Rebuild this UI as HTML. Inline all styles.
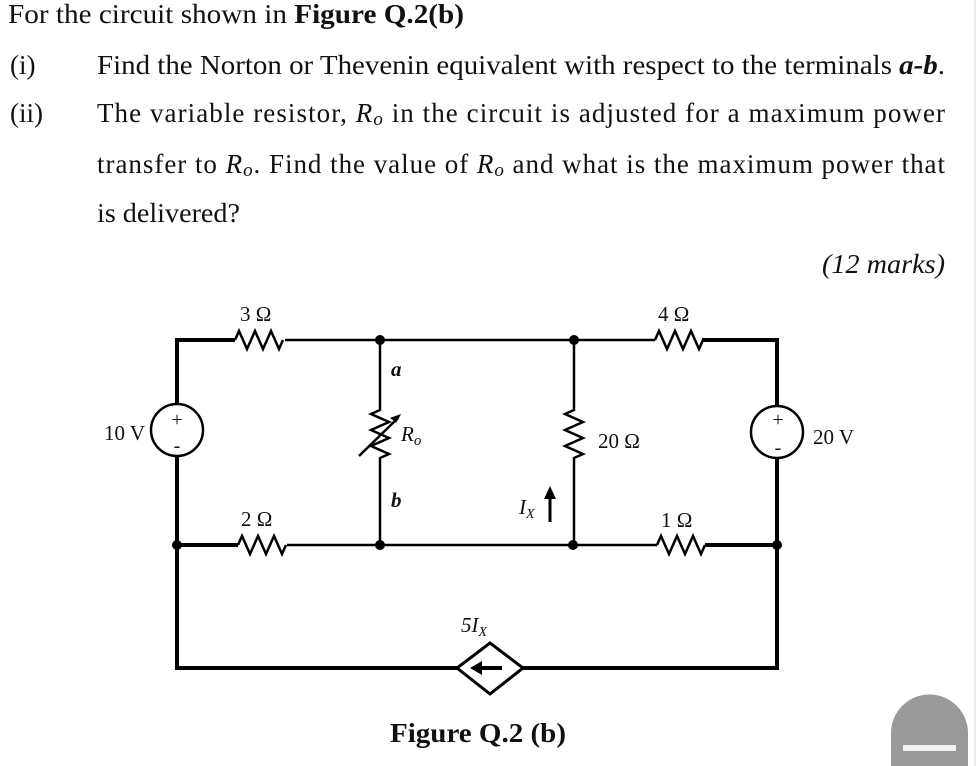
<!DOCTYPE html>
<html><head><meta charset="utf-8"><style>
html,body{margin:0;padding:0;background:#fff;}
svg{display:block;font-family:"Liberation Serif",serif;}
</style></head><body>
<svg width="980" height="766" viewBox="0 0 980 766" xmlns="http://www.w3.org/2000/svg">
<rect x="0" y="0" width="980" height="766" fill="#fff"/>
<line x1="975" y1="0" x2="975" y2="766" stroke="#e4e4e4" stroke-width="1.5"/>
<g fill="#111" font-size="27">
<text x="8" y="23" textLength="456" lengthAdjust="spacingAndGlyphs">For the circuit shown in <tspan font-weight="bold">Figure Q.2(b)</tspan></text>
<text x="10" y="74">(i)</text>
<text x="97" y="74" textLength="848" lengthAdjust="spacingAndGlyphs">Find the Norton or Thevenin equivalent with respect to the terminals <tspan font-weight="bold" font-style="italic">a-b</tspan>.</text>
<text x="10" y="122">(ii)</text>
<text x="97" y="122" textLength="848" lengthAdjust="spacing">The variable resistor, <tspan font-style="italic">R<tspan font-size="19" dy="3">o</tspan></tspan><tspan dy="-3"> in the circuit is adjusted for a maximum power</tspan></text>
<text x="97" y="173" textLength="848" lengthAdjust="spacing">transfer to <tspan font-style="italic">R<tspan font-size="19" dy="3">o</tspan></tspan><tspan dy="-3">. Find the value of </tspan><tspan font-style="italic">R<tspan font-size="19" dy="3">o</tspan></tspan><tspan dy="-3"> and what is the maximum power that</tspan></text>
<text x="97" y="222" textLength="143" lengthAdjust="spacingAndGlyphs">is delivered?</text>
<text x="822" y="273" font-style="italic" textLength="123" lengthAdjust="spacingAndGlyphs">(12 marks)</text>
</g>
<g stroke="#000" fill="none" stroke-linejoin="miter">
<path d="M177,404 V340 H235" stroke-width="4"/>
<path d="M177,456 V668 H457" stroke-width="4"/>
<path d="M523,668 H777 V458" stroke-width="4"/>
<path d="M777,406 V340 H702" stroke-width="4"/>
<path d="M177,545 H238" stroke-width="4"/>
<path d="M705,545 H777" stroke-width="4"/>
<path d="M285,340 H655" stroke-width="2.5"/>
<path d="M287,545 H657" stroke-width="2.5"/>
<path d="M235,340 l4,-9 l8,18 l8,-18 l8,18 l8,-18 l8,18 l4,-9" stroke-width="2.5"/>
<path d="M655,340 l4,-9 l8,18 l8,-18 l8,18 l8,-18 l8,18 l4,-9" stroke-width="2.5"/>
<path d="M238,545 l4,-9 l8,18 l8,-18 l8,18 l8,-18 l8,18 l4,-9" stroke-width="2.5"/>
<path d="M657,545 l4,-9 l8,18 l8,-18 l8,18 l8,-18 l8,18 l4,-9" stroke-width="2.5"/>
<path d="M380,340 V410 l-9,4 l18,8 l-18,8 l18,8 l-18,8 l18,8 l-9,4 V545" stroke-width="2.5"/>
<path d="M359,456 L398,418" stroke-width="2.5"/>
<path d="M400,415 l-9,3 l5,4 z" fill="#000" stroke-width="1"/>
<path d="M574,340 V410 l-9,4 l18,8 l-18,8 l18,8 l-18,8 l18,8 l-9,4 V545" stroke-width="2.5"/>
<circle cx="177" cy="430" r="26" stroke-width="2.5"/>
<circle cx="777" cy="432" r="26" stroke-width="2.5"/>
<path d="M490,643 L523,668 L490,694 L457,668 Z" stroke-width="3"/>
<path d="M480,668 H502" stroke-width="4"/>
<path d="M550,522 V496" stroke-width="3"/>
</g>
<path d="M470,668 L482,661 L482,675 Z" fill="#000"/>
<path d="M550,486 L544,499 L556,499 Z" fill="#000"/>
<g fill="#000">
<circle cx="380" cy="340" r="5"/><circle cx="574" cy="340" r="5"/>
<circle cx="177" cy="545" r="5"/><circle cx="380" cy="545" r="5"/>
<circle cx="573" cy="545" r="5"/><circle cx="777" cy="545" r="5"/>
</g>
<g fill="#111" font-size="21">
<text x="177" y="426" text-anchor="middle" font-size="20">+</text>
<text x="177" y="452" text-anchor="middle" font-size="20">-</text>
<text x="778" y="426" text-anchor="middle" font-size="20">+</text>
<text x="778" y="454" text-anchor="middle" font-size="20">-</text>
<text x="104" y="440">10 V</text>
<text x="813" y="444">20 V</text>
<text x="240" y="321">3 Ω</text>
<text x="658" y="321">4 Ω</text>
<text x="241" y="526">2 Ω</text>
<text x="661" y="527">1 Ω</text>
<text x="598" y="448">20 Ω</text>
<text x="391" y="376" font-weight="bold" font-style="italic">a</text>
<text x="391" y="507" font-weight="bold" font-style="italic">b</text>
<text x="401" y="441" font-style="italic">R<tspan font-size="15" dy="4">o</tspan></text>
<text x="519" y="514" font-style="italic">I<tspan font-size="14" dy="4">X</tspan></text>
<text x="461" y="632" font-style="italic">5I<tspan font-size="14" dy="4">X</tspan></text>
<text x="390" y="742" font-size="27" font-weight="bold" textLength="176" lengthAdjust="spacingAndGlyphs">Figure Q.2 (b)</text>
</g>
<path d="M891,766 V733 A38.5,38.5 0 0 1 968,733 V766 Z" fill="#9a9a9a"/>
<rect x="903" y="745" width="53" height="6" fill="#f2f2f2"/>
</svg>
</body></html>
